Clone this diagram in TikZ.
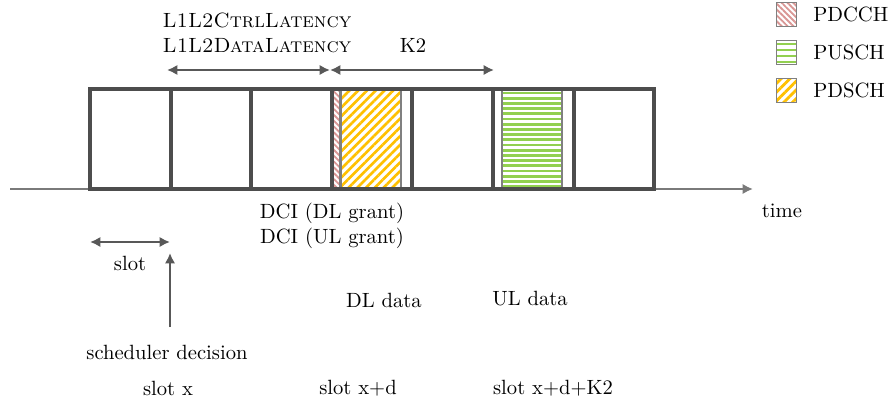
\documentclass[tikz,border=0pt]{standalone}
\usepackage{tikz}
\usetikzlibrary{arrows.meta,patterns.meta}

\definecolor{slotgray}{HTML}{4D4D4D}
\definecolor{axisgray}{HTML}{7A7A7A}
\definecolor{arrowgray}{HTML}{585858}
\definecolor{pdcchred}{HTML}{D99694}
\definecolor{puschgreen}{HTML}{92D050}
\definecolor{pdschyellow}{HTML}{FFC000}

\tikzset{
  slotbox/.style={draw=slotgray, line width=2pt},
  span/.style={draw=arrowgray, line width=1pt, {Latex[length=5pt,width=5pt]}-{Latex[length=5pt,width=5pt]}},
  pointer/.style={draw=arrowgray, line width=1pt, -{Latex[length=5pt,width=5pt]}},
  pdcch/.style={draw=gray, line width=0.5pt, pattern={Lines[angle=-45,distance=2pt,line width=0.9pt]}, pattern color=pdcchred},
  pdsch/.style={draw=gray, line width=0.5pt, pattern={Lines[angle=45,distance=3pt,line width=1.3pt]}, pattern color=pdschyellow},
  stripe/.style={draw=puschgreen, line width=1.3pt},
  frame/.style={draw=gray, line width=0.5pt},
  key/.style={minimum width=9.7pt, minimum height=12.1pt, inner sep=0pt},
}

\begin{document}
\begin{tikzpicture}[x=0.485pt, y=-0.485pt]
    \useasboundingbox (0,0) rectangle (891,405);

    % Time axis
    \coordinate (tstart) at (10,189);
    \coordinate (tend) at (753,189);
    \draw[draw=axisgray, line width=1pt, -{Latex[length=5pt,width=5pt]}] (tstart) -- (tend);
    \node (time) at (782,211) {time};

    % Channels inside the slots
    \draw[pdcch] (332,90) rectangle (340,188);
    \draw[pdsch] (341,90) rectangle (401,188);
    \foreach \y in {93,98.2,...,187}
        \draw[stripe] (502,\y) -- (562,\y);
    \draw[frame] (502,90) rectangle (562,188);

    % Slots
    \foreach \i in {0,...,6}
        \draw[slotbox] (90+80.6*\i,89) rectangle (90+80.6*\i+80.6,189);

    % Latencies
    \coordinate (lat1) at (167,70);
    \coordinate (lat2) at (330,70);
    \coordinate (lat3) at (494,70);
    \draw[span] (lat1) -- (lat2);
    \draw[span] (lat2) -- (lat3);
    \node[align=center] (latency) at (257,33) {\textsc{L1L2CtrlLatency}\\\textsc{L1L2DataLatency}};
    \node (ktwo) at (413,45) {K2};

    % Slot length and scheduler decision
    \coordinate (slotl) at (90,242);
    \coordinate (slotr) at (170,242);
    \draw[span] (slotl) -- (slotr);
    \node (slot) at (130,263) {slot};
    \node (sched) at (167,352) {scheduler decision};
    \coordinate (schedtip) at (170,253);
    \draw[pointer] (170,327) -- (schedtip);

    % Labels below the axis
    \node[align=center] (dci) at (332,226) {DCI (DL grant)\\DCI (UL grant)};
    \node (dldata) at (384,300) {DL data};
    \node (uldata) at (530,299) {UL data};
    \node (slotx) at (168,388) {slot x};
    \node (slotxd) at (358,388) {slot x+d};
    \node (slotxdk) at (553,388) {slot x+d+K2};

    % Legend
    \node[key, pdcch] (keypdcch) at (786.5,14.5) {};
    \foreach \y in {44,50,56,62}
        \draw[stripe] (776.5,\y) -- (796.5,\y);
    \node[key, frame] (keypusch) at (786.5,52.5) {};
    \node[key, pdsch] (keypdsch) at (786.5,90.5) {};
    \node[anchor=west] at (806,14.5) {PDCCH};
    \node[anchor=west] at (806,52.5) {PUSCH};
    \node[anchor=west] at (806,90.5) {PDSCH};
\end{tikzpicture}
\end{document}
